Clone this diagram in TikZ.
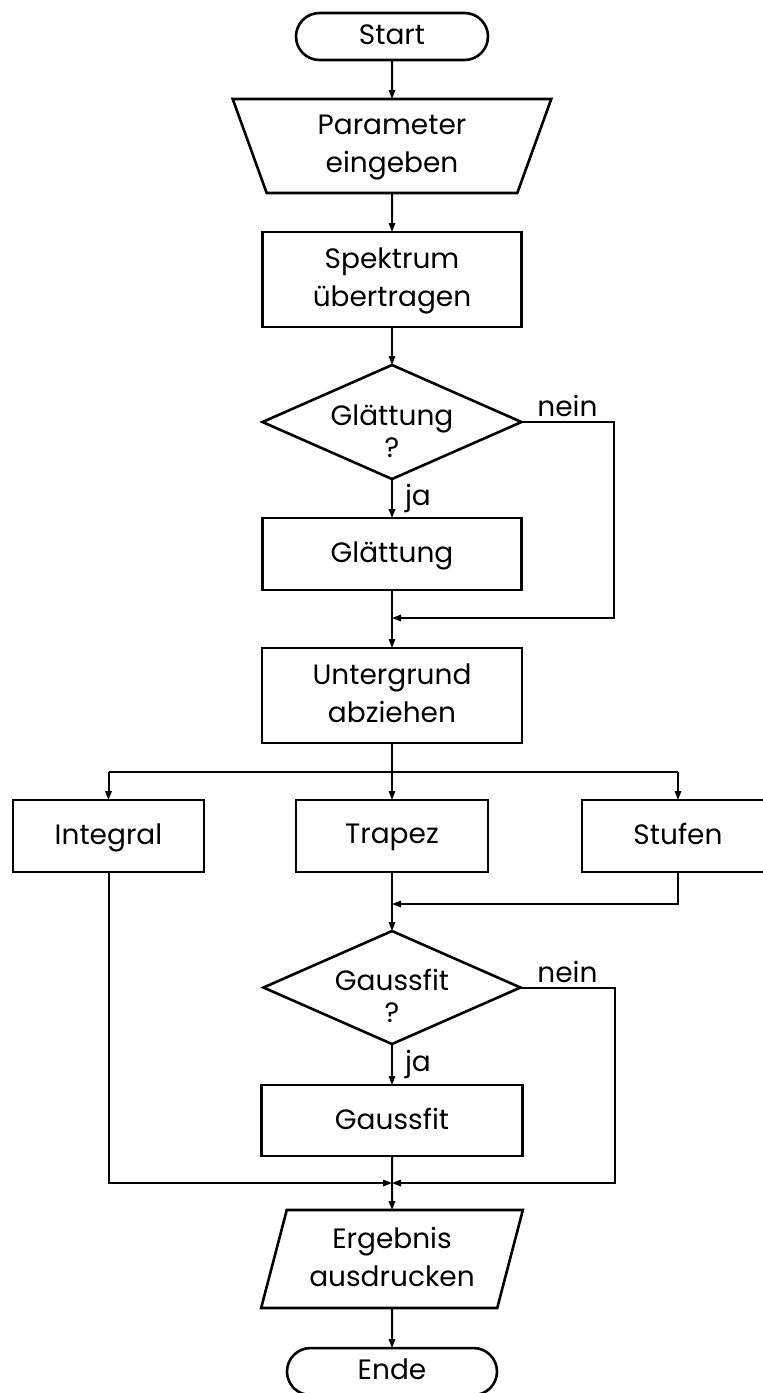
\documentclass[tikz,border=0pt]{standalone}
\usepackage{fontspec}
\setmainfont{Poppins}
\usetikzlibrary{arrows.meta, positioning, shapes.geometric, shapes.misc}

\begin{document}
\begin{tikzpicture}[
  font=\fontsize{14}{19}\selectfont,
  box/.style={draw, rectangle, align=center, line width=1.3pt, outer sep=0pt,
              minimum width=129.5pt, inner sep=2pt, text depth=0.2em},
  term/.style={box, rounded rectangle, minimum width=100pt, minimum height=23.5pt},
  manin/.style={box, trapezium, shape border rotate=180, trapezium left angle=73,
                trapezium right angle=73, trapezium stretches=true,
                minimum width=160pt, minimum height=47pt},
  outp/.style={box, trapezium, trapezium left angle=73.5, trapezium right angle=106.5,
               trapezium stretches=true, minimum width=131pt, minimum height=49pt},
  dec/.style={box, diamond, aspect=2.27, inner sep=-6pt, text height=37pt,
              font=\fontsize{14}{16}\selectfont,
              minimum width=129.5pt, minimum height=57pt},
  small/.style={box, minimum width=96pt, minimum height=36pt},
  flow/.style={-{Triangle[length=4.5pt,width=3.2pt]}, line width=1pt},
  line/.style={line width=1pt},
  lbl/.style={inner sep=2pt},
]
\useasboundingbox (0,0) rectangle (381.5pt,-696.5pt);

% main column
\node[term] (start) at (196pt,-18.25pt) {Start};
\node[manin, below=19.5pt of start] (param) {Parameter\\eingeben};
\node[box, below=19.5pt of param, minimum height=47.5pt] (spek) {Spektrum\\übertragen};
\node[dec, below=19pt of spek] (glq) {Glättung\\?};
\node[box, below=19.5pt of glq, minimum height=36pt] (glb) {Glättung};
\node[box, below=29pt of glb, minimum height=47.5pt, minimum width=130pt] (unt) {Untergrund\\abziehen};
\node[small, below=28.5pt of unt] (tra) {Trapez};
\node[small, left=46pt of tra, minimum width=95.5pt] (int) {Integral};
\node[small, right=47pt of tra] (stu) {Stufen};
\node[dec, below=29.5pt of tra, minimum width=128.5pt, minimum height=56.5pt] (gq) {Gaussfit\\?};
\node[box, below=20.5pt of gq, minimum width=130.5pt, minimum height=35.5pt] (gb) {Gaussfit};
\node[outp, below=27pt of gb] (erg) {Ergebnis\\ausdrucken};
\node[term, below=20pt of erg, minimum width=109pt] (ende) {Ende};

\foreach \a/\b in {start/param, param/spek, spek/glq, glb/unt, unt/tra, tra/gq, gb/erg, erg/ende}
  \draw[flow] (\a) -- (\b);

\draw[flow] (glq) -- node[lbl, right, xshift=4pt] (ja1) {ja} (glb);
\draw[flow] (gq) -- node[lbl, right, xshift=4pt] (ja2) {ja} (gb);

% branches
\coordinate[below=14.5pt of unt.south] (sp);
\draw[line] (int.north |- sp) -- (stu.north |- sp);
\draw[flow] (int.north |- sp) -- (int);
\draw[flow] (stu.north |- sp) -- (stu);

% joins
\coordinate[below=14pt of glb.south] (m1);
\draw[flow] (glq.east) -- node[lbl, above] (nein1) {nein} ++(46pt,0) |- (m1);
\coordinate[below=16pt of tra.south] (m2);
\draw[flow] (stu.south) |- (m2);
\coordinate[below=13.5pt of gb.south] (m3);
\draw[flow] (int.south) |- (m3);
\draw[flow] (gq.east) -- node[lbl, above] (nein2) {nein} ++(47pt,0) |- (m3);
\end{tikzpicture}
\end{document}
